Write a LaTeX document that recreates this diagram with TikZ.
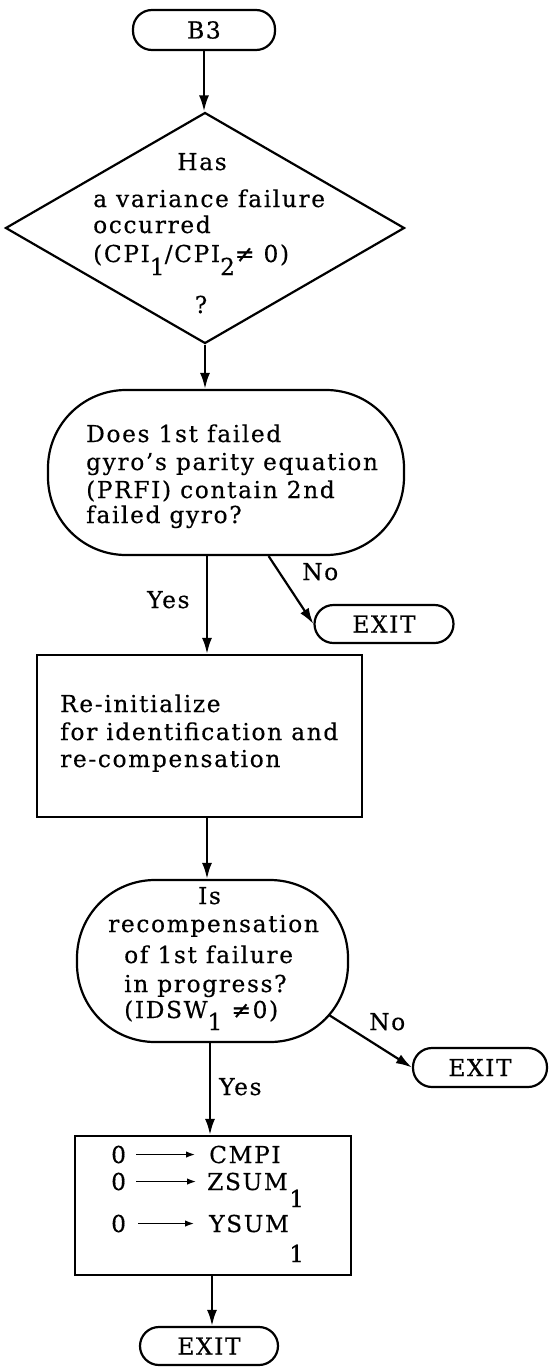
\documentclass[tikz,border=0pt]{standalone}
\usepackage{fontspec}
\setmainfont{DejaVu Serif}[LetterSpace=7, FakeBold=0.4]
\usetikzlibrary{arrows.meta,shapes.geometric}
% lowered index digit, as typed on the chart
\newcommand\lowidx[2][13pt]{\raisebox{-#1}{#2}}
\begin{document}
\begin{tikzpicture}[x=1pt,y=-1pt,
  every node/.style={font=\fontsize{23.3}{27}\selectfont, inner sep=0pt},
  outline/.style={draw, line width=2.2pt},
  term/.style={outline, rectangle, rounded corners=19pt, minimum height=38pt},
  decide/.style={outline, diamond},
  oval/.style={outline, rectangle, rounded corners=78pt},
  proc/.style={outline, rectangle},
  txt/.style={anchor=base west},
  ctxt/.style={anchor=base},
  flow/.style={line width=2.2pt, -{Latex[length=16pt,width=10pt]}},
  assign/.style={line width=1.4pt, -{Latex[length=9pt,width=6.5pt]}},
]
\useasboundingbox (0,0) rectangle (549,1368);

% start terminal
\node[term, minimum width=142pt, minimum height=40pt] (b3) at (204,30) {B3};

% variance failure test
\node[decide, minimum width=399pt, minimum height=231pt] (d1) at (205,228) {};
\node[ctxt] (d1a) at (202,170) {Has};
\node[txt]  (d1b) at (93,207) {a variance failure};
\node[txt]  (d1c) at (93,233) {occurred};
\node[txt]  (d1d) at (93,262) {(CPI\lowidx{1}/CPI\lowidx{2}≠ 0)};
\node[ctxt] (d1e) at (201,313) {?};

% parity equation test
\node[oval, minimum width=356pt, minimum height=165pt] (q2) at (226,472.5) {};
\node[txt] (q2a) at (86,442) {Does 1st failed};
\node[txt] (q2b) at (86,470) {gyro's parity equation};
\node[txt] (q2c) at (86,498) {(PRFI) contain 2nd};
\node[txt] (q2d) at (86,523) {failed gyro?};

\node[term, minimum width=139pt] (x1) at (384,624) {EXIT};
\node[txt] (q2no)  at (302,580) {No};
\node[txt] (q2yes) at (147,608) {Yes};

% re-initialisation block
\node[proc, minimum width=325pt, minimum height=162pt] (r1) at (199.5,736) {};
\node[txt] (r1a) at (60,712) {Re-initialize};
\node[txt] (r1b) at (60,740) {for identification and};
\node[txt] (r1c) at (60,767) {re-compensation};

% recompensation test
\node[oval, minimum width=271pt, minimum height=162pt] (q3) at (212.5,961) {};
\node[ctxt] (q3a) at (209.5,904) {Is};
\node[txt]  (q3b) at (108,932) {recompensation};
\node[txt]  (q3c) at (124,963) {of 1st failure};
\node[txt]  (q3d) at (124,992) {in progress?};
\node[txt]  (q3e) at (124,1018) {(IDSW\lowidx[12pt]{1} ≠0)};

\node[term, minimum width=134pt, minimum height=39pt] (x2) at (480,1067.5) {EXIT};
\node[txt] (q3no)  at (369,1030) {No};
\node[txt] (q3yes) at (219,1095) {Yes};

% reset block
\node[proc, minimum width=276pt, minimum height=139pt] (r2) at (213,1205.5) {};
\node[txt] (z1) at (111,1163) {0};
\node[txt] (v1) at (209,1163) {CMPI};
\node[txt] (z2) at (111,1190) {0};
\node[txt] (v2) at (207,1190) {ZSUM};
\node[txt] (s2) at (289,1207) {1};
\node[txt] (z3) at (111,1232) {0};
\node[txt] (v3) at (209,1232) {YSUM};
\node[txt] (s3) at (289,1262) {1};

\node[term, minimum width=138pt] (x3) at (209,1346) {EXIT};

% connectors
\draw[flow] (b3.south) -- (b3.south |- d1.north);
\draw[flow] (d1.south) -- (d1.south |- q2.north);
\draw[flow] ([xshift=-19pt]q2.south) -- ([xshift=-19pt]q2.south |- r1.north);
\draw[flow] (q2.-63.6) -- (x1.west);
\draw[flow] ([xshift=7.5pt]r1.south) -- ([xshift=7.5pt]r1.south |- q3.north);
\draw[flow] ([xshift=-2.5pt]q3.south) -- ([xshift=-2.5pt]q3.south |- r2.north);
\draw[flow] ([shift={(116.5,54)}]q3.center) -- (x2.west);
\draw[flow] ([xshift=-1pt]r2.south) -- ([xshift=-1pt]r2.south |- x3.north);

\draw[assign] ([xshift=10pt]z1.east) -- ([xshift=-14pt]z1.east -| v1.west);
\draw[assign] ([xshift=10pt]z2.east) -- ([xshift=-11pt]z2.east -| v2.west);
\draw[assign] ([xshift=12pt]z3.east) -- ([xshift=-15pt]z3.east -| v3.west);
\end{tikzpicture}
\end{document}
